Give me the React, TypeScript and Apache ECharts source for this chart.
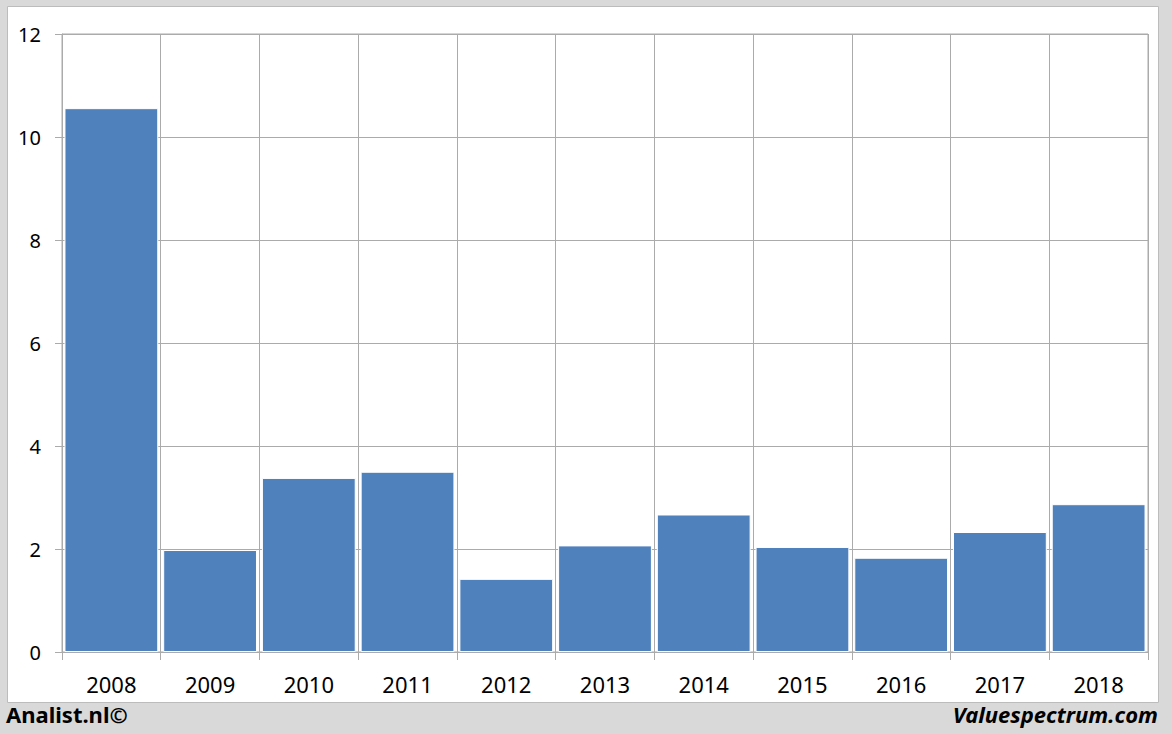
import React, { useEffect, useRef } from "react";
import * as echarts from "echarts";

const years = ["2008", "2009", "2010", "2011", "2012", "2013", "2014", "2015", "2016", "2017", "2018"];
const values = [10.56, 1.98, 3.38, 3.5, 1.42, 2.07, 2.67, 2.04, 1.83, 2.33, 2.87];
const leftCredit = "Analist.nl©";
const rightCredit = "Valuespectrum.com";

export default function App() {
  const ref = useRef<HTMLDivElement>(null);
  useEffect(() => {
    document.body.style.margin = "0";
    const chart = echarts.init(ref.current!, null, { renderer: "svg" });
    const lineColor = "#ababab";
    chart.setOption({
      animation: false,
      backgroundColor: "#d9d9d9",
      graphic: [
        {
          type: "rect",
          z: -10,
          shape: { x: 7.5, y: 6.5, width: 1151, height: 696 },
          style: { fill: "#ffffff", stroke: "#bcbcbc", lineWidth: 1 },
        },
        {
          type: "text",
          left: 6,
          top: 703,
          style: { text: leftCredit, font: "bold 22px 'Noto Sans'", fill: "#000" },
        },
        {
          type: "text",
          right: 14,
          top: 703,
          style: { text: rightCredit, font: "italic bold 22px 'Noto Sans'", fill: "#000" },
        },
      ],
      grid: {
        left: 62,
        right: 24,
        top: 34,
        bottom: 82,
        show: true,
        borderColor: lineColor,
        borderWidth: 1,
        backgroundColor: "transparent",
      },
      xAxis: {
        type: "category",
        data: years,
        boundaryGap: true,
        axisLine: { show: true, lineStyle: { color: lineColor, width: 1 } },
        axisTick: { show: true, length: 8, lineStyle: { color: lineColor } },
        splitLine: { show: true, lineStyle: { color: lineColor, width: 1 } },
        axisLabel: { color: "#000", fontSize: 22, fontFamily: "Noto Sans", margin: 21 },
      },
      yAxis: {
        type: "value",
        min: 0,
        max: 12,
        interval: 2,
        axisLine: { show: true, lineStyle: { color: lineColor, width: 1 } },
        axisTick: { show: true, length: 7, lineStyle: { color: lineColor } },
        splitLine: { show: true, lineStyle: { color: lineColor, width: 1 } },
        axisLabel: { color: "#000", fontSize: 20, fontFamily: "Noto Sans", margin: 21 },
      },
      series: [
        {
          type: "bar",
          data: values,
          barCategoryGap: "5%",
          itemStyle: { color: "#4f81bd", borderColor: "#ffffff", borderWidth: 1 },
        },
      ],
    });
    return () => chart.dispose();
  }, []);
  return <div ref={ref} style={{ width: 1172, height: 734 }} />;
}
